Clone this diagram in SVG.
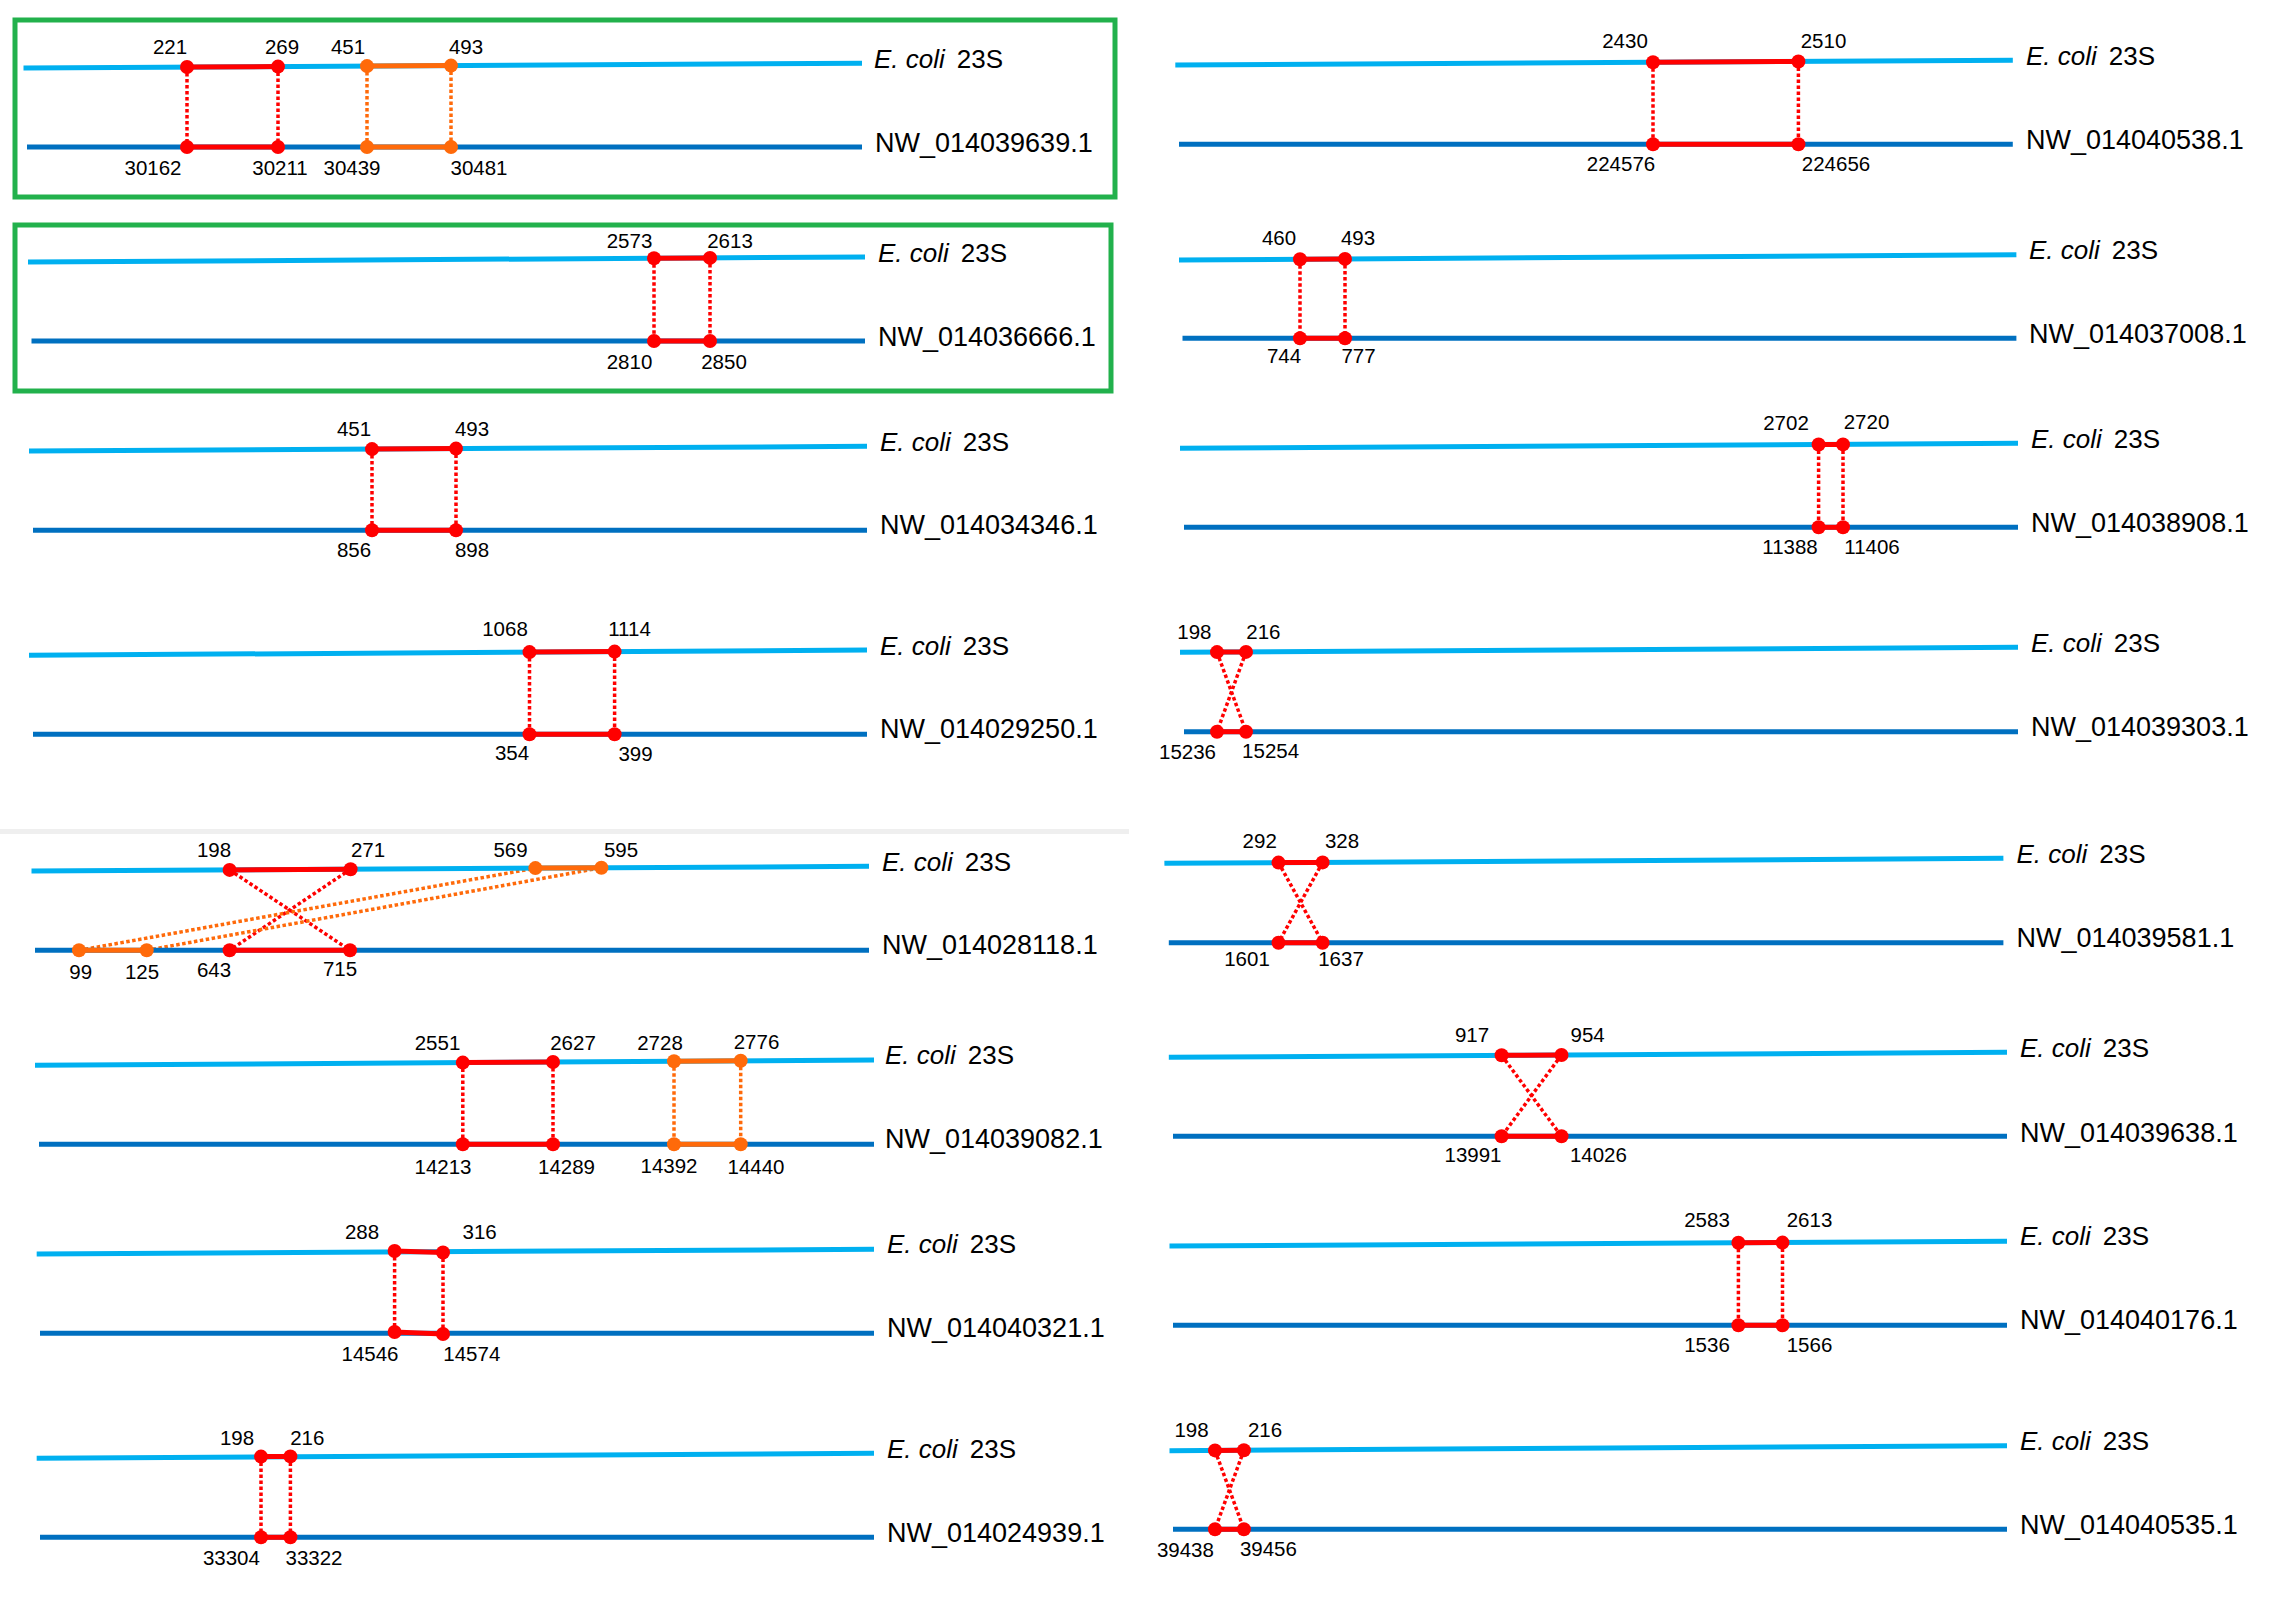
<svg xmlns="http://www.w3.org/2000/svg" width="2282" height="1609" viewBox="0 0 2282 1609">
<style>
.ec{stroke:#00B0F0;stroke-width:5;fill:none}
.nw{stroke:#0070C0;stroke-width:5;fill:none}
.sr{stroke:#FF0000;stroke-width:5}
.so{stroke:#FF6A0A;stroke-width:5}
.dr{fill:#FF0000}
.do{fill:#FF6A0A}
.lr{stroke:#FF0000;stroke-width:3.5;stroke-dasharray:3.5 2.5;fill:none}
.lo{stroke:#FF6A0A;stroke-width:3.5;stroke-dasharray:3.5 2.5;fill:none}
.num{font-family:"Liberation Sans",Arial,sans-serif;font-size:20.5px;text-anchor:middle;fill:#000}
.name{font-family:"Liberation Sans",Arial,sans-serif;font-size:27px;fill:#000}
.ecn{font-family:"Liberation Sans",Arial,sans-serif;font-size:26px;fill:#000}
.box{fill:none;stroke:#22B14C;stroke-width:5}
</style>
<rect width="2282" height="1609" fill="#FFFFFF"/>
<rect x="0" y="829" width="1129" height="5" fill="#EFEFEF"/>

<g id="connectors">
  <!-- L1 -->
  <line class="lr" x1="187" y1="67" x2="187" y2="147"/>
  <line class="lr" x1="278" y1="66.6" x2="278" y2="147"/>
  <line class="lo" x1="367" y1="66.1" x2="367" y2="147"/>
  <line class="lo" x1="451" y1="65.6" x2="451" y2="147"/>
  <!-- L2 -->
  <line class="lr" x1="654" y1="258.3" x2="654" y2="341"/>
  <line class="lr" x1="710" y1="257.9" x2="710" y2="341"/>
  <!-- L3 -->
  <line class="lr" x1="372" y1="449.1" x2="372" y2="530.3"/>
  <line class="lr" x1="456" y1="448.6" x2="456" y2="530.3"/>
  <!-- L4 -->
  <line class="lr" x1="529.5" y1="652.1" x2="529.5" y2="734.3"/>
  <line class="lr" x1="614.6" y1="651.6" x2="614.6" y2="734.3"/>
  <!-- L5 -->
  <line class="lr" x1="229.6" y1="869.9" x2="350" y2="950.3"/>
  <line class="lr" x1="350.6" y1="869.2" x2="229.6" y2="950.3"/>
  <line class="lo" x1="79" y1="950.3" x2="535.4" y2="868.1"/>
  <line class="lo" x1="146.7" y1="950.3" x2="601.4" y2="867.7"/>
  <!-- L6 -->
  <line class="lr" x1="462.8" y1="1062.6" x2="462.8" y2="1144.3"/>
  <line class="lr" x1="553" y1="1062" x2="553" y2="1144.3"/>
  <line class="lo" x1="674" y1="1061.3" x2="674" y2="1144.3"/>
  <line class="lo" x1="740.7" y1="1060.8" x2="740.7" y2="1144.3"/>
  <!-- L7 -->
  <line class="lr" x1="394.6" y1="1251" x2="394.6" y2="1332"/>
  <line class="lr" x1="443" y1="1252.5" x2="443" y2="1334"/>
  <!-- L8 -->
  <line class="lr" x1="261" y1="1456.6" x2="261" y2="1537.3"/>
  <line class="lr" x1="290.4" y1="1456.4" x2="290.4" y2="1537.3"/>
  <!-- R1 -->
  <line class="lr" x1="1653" y1="62.3" x2="1653" y2="144.3"/>
  <line class="lr" x1="1798.4" y1="61.5" x2="1798.4" y2="144.3"/>
  <!-- R2 -->
  <line class="lr" x1="1300" y1="259.2" x2="1300" y2="338.3"/>
  <line class="lr" x1="1345" y1="258.9" x2="1345" y2="338.3"/>
  <!-- R3 -->
  <line class="lr" x1="1818.6" y1="444.5" x2="1818.6" y2="527.3"/>
  <line class="lr" x1="1843" y1="444.4" x2="1843" y2="527.3"/>
  <!-- R4 -->
  <line class="lr" x1="1217" y1="652.1" x2="1246" y2="731.7"/>
  <line class="lr" x1="1246" y1="651.9" x2="1217" y2="731.7"/>
  <!-- R5 -->
  <line class="lr" x1="1278.5" y1="862.6" x2="1322.6" y2="942.7"/>
  <line class="lr" x1="1322.6" y1="862.4" x2="1278.5" y2="942.7"/>
  <!-- R6 -->
  <line class="lr" x1="1501.6" y1="1055.3" x2="1561.5" y2="1136.3"/>
  <line class="lr" x1="1561.5" y1="1055" x2="1501.6" y2="1136.3"/>
  <!-- R7 -->
  <line class="lr" x1="1738.4" y1="1242.8" x2="1738.4" y2="1325.3"/>
  <line class="lr" x1="1782.5" y1="1242.6" x2="1782.5" y2="1325.3"/>
  <!-- R8 -->
  <line class="lr" x1="1215" y1="1450.4" x2="1243.9" y2="1529.3"/>
  <line class="lr" x1="1243.9" y1="1450.2" x2="1215" y2="1529.3"/>
</g>

<g id="panel-NW_014039639">
  <rect class="box" x="15" y="20" width="1100" height="177"/>
  <line class="ec" x1="23.5" y1="68" x2="862" y2="63.3"/>
  <line class="nw" x1="27" y1="147" x2="862" y2="147"/>
  <line class="sr" x1="187" y1="67" x2="278" y2="66.6"/>
  <line class="so" x1="367" y1="66.1" x2="451" y2="65.6"/>
  <line class="sr" x1="187" y1="147" x2="278" y2="147"/>
  <line class="so" x1="367" y1="147" x2="451" y2="147"/>
  <circle class="dr" cx="187" cy="67" r="7"/><circle class="dr" cx="278" cy="66.6" r="7"/>
  <circle class="do" cx="367" cy="66.1" r="7"/><circle class="do" cx="451" cy="65.6" r="7"/>
  <circle class="dr" cx="187" cy="147" r="7"/><circle class="dr" cx="278" cy="147" r="7"/>
  <circle class="do" cx="367" cy="147" r="7"/><circle class="do" cx="451" cy="147" r="7"/>
  <text class="num" x="170" y="54">221</text><text class="num" x="282" y="54">269</text>
  <text class="num" x="348" y="54">451</text><text class="num" x="466" y="54">493</text>
  <text class="num" x="153" y="174.5">30162</text><text class="num" x="280" y="174.5">30211</text>
  <text class="num" x="352" y="174.5">30439</text><text class="num" x="479" y="174.5">30481</text>
  <text class="ecn" x="874" y="68"><tspan font-style="italic">E. coli</tspan><tspan dx="12">23S</tspan></text>
  <text class="name" x="875" y="152">NW_014039639.1</text>
</g>

<g id="panel-NW_014036666">
  <rect class="box" x="15" y="225" width="1096" height="166"/>
  <line class="ec" x1="28" y1="262" x2="865" y2="257"/>
  <line class="nw" x1="31.5" y1="341" x2="865" y2="341"/>
  <line class="sr" x1="654" y1="258.3" x2="710" y2="257.9"/>
  <line class="sr" x1="654" y1="341" x2="710" y2="341"/>
  <circle class="dr" cx="654" cy="258.3" r="7"/><circle class="dr" cx="710" cy="257.9" r="7"/>
  <circle class="dr" cx="654" cy="341" r="7"/><circle class="dr" cx="710" cy="341" r="7"/>
  <text class="num" x="629.5" y="248">2573</text><text class="num" x="730" y="248">2613</text>
  <text class="num" x="629.5" y="369">2810</text><text class="num" x="724" y="369">2850</text>
  <text class="ecn" x="878" y="262"><tspan font-style="italic">E. coli</tspan><tspan dx="12">23S</tspan></text>
  <text class="name" x="878" y="346">NW_014036666.1</text>
</g>

<g id="panel-NW_014034346">
  <line class="ec" x1="29" y1="451" x2="867" y2="446.3"/>
  <line class="nw" x1="33" y1="530.3" x2="867" y2="530.3"/>
  <line class="sr" x1="372" y1="449.1" x2="456" y2="448.6"/>
  <line class="sr" x1="372" y1="530.3" x2="456" y2="530.3"/>
  <circle class="dr" cx="372" cy="449.1" r="7"/><circle class="dr" cx="456" cy="448.6" r="7"/>
  <circle class="dr" cx="372" cy="530.3" r="7"/><circle class="dr" cx="456" cy="530.3" r="7"/>
  <text class="num" x="354" y="436">451</text><text class="num" x="472" y="436">493</text>
  <text class="num" x="354" y="556.5">856</text><text class="num" x="472" y="556.5">898</text>
  <text class="ecn" x="880" y="450.5"><tspan font-style="italic">E. coli</tspan><tspan dx="12">23S</tspan></text>
  <text class="name" x="880" y="534">NW_014034346.1</text>
</g>

<g id="panel-NW_014029250">
  <line class="ec" x1="29" y1="655.3" x2="867" y2="650"/>
  <line class="nw" x1="33" y1="734.3" x2="867" y2="734.3"/>
  <line class="sr" x1="529.5" y1="652.1" x2="614.6" y2="651.6"/>
  <line class="sr" x1="529.5" y1="734.3" x2="614.6" y2="734.3"/>
  <circle class="dr" cx="529.5" cy="652.1" r="7"/><circle class="dr" cx="614.6" cy="651.6" r="7"/>
  <circle class="dr" cx="529.5" cy="734.3" r="7"/><circle class="dr" cx="614.6" cy="734.3" r="7"/>
  <text class="num" x="505" y="636">1068</text><text class="num" x="629.5" y="636">1114</text>
  <text class="num" x="512" y="759.5">354</text><text class="num" x="635.5" y="760.5">399</text>
  <text class="ecn" x="880" y="655"><tspan font-style="italic">E. coli</tspan><tspan dx="12">23S</tspan></text>
  <text class="name" x="880" y="738">NW_014029250.1</text>
</g>

<g id="panel-NW_014028118">
  <line class="ec" x1="31.5" y1="871" x2="869" y2="866.3"/>
  <line class="nw" x1="35" y1="950.3" x2="869" y2="950.3"/>
  <line class="sr" x1="229.6" y1="869.9" x2="350.6" y2="869.2"/>
  <line class="so" x1="535.4" y1="868.1" x2="601.4" y2="867.7"/>
  <line class="so" x1="79" y1="950.3" x2="146.7" y2="950.3"/>
  <line class="sr" x1="229.6" y1="950.3" x2="350" y2="950.3"/>
  <circle class="dr" cx="229.6" cy="869.9" r="7"/><circle class="dr" cx="350.6" cy="869.2" r="7"/>
  <circle class="do" cx="535.4" cy="868.1" r="7"/><circle class="do" cx="601.4" cy="867.7" r="7"/>
  <circle class="do" cx="79" cy="950.3" r="7"/><circle class="do" cx="146.7" cy="950.3" r="7"/>
  <circle class="dr" cx="229.6" cy="950.3" r="7"/><circle class="dr" cx="350" cy="950.3" r="7"/>
  <text class="num" x="214" y="857">198</text><text class="num" x="368" y="857">271</text>
  <text class="num" x="510.5" y="857">569</text><text class="num" x="621" y="857">595</text>
  <text class="num" x="80.7" y="979">99</text><text class="num" x="142" y="979">125</text>
  <text class="num" x="214" y="977">643</text><text class="num" x="340" y="976">715</text>
  <text class="ecn" x="882" y="871"><tspan font-style="italic">E. coli</tspan><tspan dx="12">23S</tspan></text>
  <text class="name" x="882" y="954">NW_014028118.1</text>
</g>

<g id="panel-NW_014039082">
  <line class="ec" x1="35" y1="1065.3" x2="874" y2="1060"/>
  <line class="nw" x1="39" y1="1144.3" x2="874" y2="1144.3"/>
  <line class="sr" x1="462.8" y1="1062.6" x2="553" y2="1062"/>
  <line class="so" x1="674" y1="1061.3" x2="740.7" y2="1060.8"/>
  <line class="sr" x1="462.8" y1="1144.3" x2="553" y2="1144.3"/>
  <line class="so" x1="674" y1="1144.3" x2="740.7" y2="1144.3"/>
  <circle class="dr" cx="462.8" cy="1062.6" r="7"/><circle class="dr" cx="553" cy="1062" r="7"/>
  <circle class="do" cx="674" cy="1061.3" r="7"/><circle class="do" cx="740.7" cy="1060.8" r="7"/>
  <circle class="dr" cx="462.8" cy="1144.3" r="7"/><circle class="dr" cx="553" cy="1144.3" r="7"/>
  <circle class="do" cx="674" cy="1144.3" r="7"/><circle class="do" cx="740.7" cy="1144.3" r="7"/>
  <text class="num" x="437.5" y="1049.5">2551</text><text class="num" x="573" y="1049.5">2627</text>
  <text class="num" x="660" y="1049.5">2728</text><text class="num" x="756.5" y="1049">2776</text>
  <text class="num" x="443" y="1173.5">14213</text><text class="num" x="566.5" y="1173.5">14289</text>
  <text class="num" x="669" y="1172.5">14392</text><text class="num" x="756" y="1173.5">14440</text>
  <text class="ecn" x="885" y="1064"><tspan font-style="italic">E. coli</tspan><tspan dx="12">23S</tspan></text>
  <text class="name" x="885" y="1148">NW_014039082.1</text>
</g>

<g id="panel-NW_014040321">
  <line class="ec" x1="36.7" y1="1254" x2="874" y2="1249.3"/>
  <line class="nw" x1="40" y1="1333.3" x2="874" y2="1333.3"/>
  <line class="sr" x1="394.6" y1="1251" x2="443" y2="1252.5"/>
  <line class="sr" x1="394.6" y1="1332" x2="443" y2="1334"/>
  <circle class="dr" cx="394.6" cy="1251" r="7"/><circle class="dr" cx="443" cy="1252.5" r="7"/>
  <circle class="dr" cx="394.6" cy="1332" r="7"/><circle class="dr" cx="443" cy="1334" r="7"/>
  <text class="num" x="362" y="1239">288</text><text class="num" x="479.6" y="1238.5">316</text>
  <text class="num" x="370" y="1360.5">14546</text><text class="num" x="471.8" y="1360.5">14574</text>
  <text class="ecn" x="887" y="1253"><tspan font-style="italic">E. coli</tspan><tspan dx="12">23S</tspan></text>
  <text class="name" x="887" y="1337">NW_014040321.1</text>
</g>

<g id="panel-NW_014024939">
  <line class="ec" x1="36.7" y1="1458.3" x2="874" y2="1453.3"/>
  <line class="nw" x1="40" y1="1537.3" x2="874" y2="1537.3"/>
  <line class="sr" x1="261" y1="1456.6" x2="290.4" y2="1456.4"/>
  <line class="sr" x1="261" y1="1537.3" x2="290.4" y2="1537.3"/>
  <circle class="dr" cx="261" cy="1456.6" r="7"/><circle class="dr" cx="290.4" cy="1456.4" r="7"/>
  <circle class="dr" cx="261" cy="1537.3" r="7"/><circle class="dr" cx="290.4" cy="1537.3" r="7"/>
  <text class="num" x="237" y="1445">198</text><text class="num" x="307.3" y="1445">216</text>
  <text class="num" x="231.4" y="1565">33304</text><text class="num" x="314" y="1565">33322</text>
  <text class="ecn" x="887" y="1457.5"><tspan font-style="italic">E. coli</tspan><tspan dx="12">23S</tspan></text>
  <text class="name" x="887" y="1541.5">NW_014024939.1</text>
</g>

<g id="panel-NW_014040538">
  <line class="ec" x1="1175.3" y1="65" x2="2012.8" y2="60.3"/>
  <line class="nw" x1="1179" y1="144.3" x2="2012.8" y2="144.3"/>
  <line class="sr" x1="1653" y1="62.3" x2="1798.4" y2="61.5"/>
  <line class="sr" x1="1653" y1="144.3" x2="1798.4" y2="144.3"/>
  <circle class="dr" cx="1653" cy="62.3" r="7"/><circle class="dr" cx="1798.4" cy="61.5" r="7"/>
  <circle class="dr" cx="1653" cy="144.3" r="7"/><circle class="dr" cx="1798.4" cy="144.3" r="7"/>
  <text class="num" x="1625" y="48">2430</text><text class="num" x="1823.5" y="47.5">2510</text>
  <text class="num" x="1621" y="170.5">224576</text><text class="num" x="1836" y="170.5">224656</text>
  <text class="ecn" x="2026" y="65"><tspan font-style="italic">E. coli</tspan><tspan dx="12">23S</tspan></text>
  <text class="name" x="2026" y="149">NW_014040538.1</text>
</g>

<g id="panel-NW_014037008">
  <line class="ec" x1="1179" y1="260" x2="2016.4" y2="254.7"/>
  <line class="nw" x1="1182.5" y1="338.3" x2="2016.4" y2="338.3"/>
  <line class="sr" x1="1300" y1="259.2" x2="1345" y2="258.9"/>
  <line class="sr" x1="1300" y1="338.3" x2="1345" y2="338.3"/>
  <circle class="dr" cx="1300" cy="259.2" r="7"/><circle class="dr" cx="1345" cy="258.9" r="7"/>
  <circle class="dr" cx="1300" cy="338.3" r="7"/><circle class="dr" cx="1345" cy="338.3" r="7"/>
  <text class="num" x="1279" y="245">460</text><text class="num" x="1358" y="245">493</text>
  <text class="num" x="1284" y="363">744</text><text class="num" x="1358.5" y="363">777</text>
  <text class="ecn" x="2029" y="259"><tspan font-style="italic">E. coli</tspan><tspan dx="12">23S</tspan></text>
  <text class="name" x="2029" y="343">NW_014037008.1</text>
</g>

<g id="panel-NW_014038908">
  <line class="ec" x1="1180" y1="448.3" x2="2018" y2="443.3"/>
  <line class="nw" x1="1184" y1="527.3" x2="2018" y2="527.3"/>
  <line class="sr" x1="1818.6" y1="444.5" x2="1843" y2="444.4"/>
  <line class="sr" x1="1818.6" y1="527.3" x2="1843" y2="527.3"/>
  <circle class="dr" cx="1818.6" cy="444.5" r="7"/><circle class="dr" cx="1843" cy="444.4" r="7"/>
  <circle class="dr" cx="1818.6" cy="527.3" r="7"/><circle class="dr" cx="1843" cy="527.3" r="7"/>
  <text class="num" x="1786" y="430">2702</text><text class="num" x="1866.5" y="429">2720</text>
  <text class="num" x="1790" y="554">11388</text><text class="num" x="1872" y="554">11406</text>
  <text class="ecn" x="2031" y="447.5"><tspan font-style="italic">E. coli</tspan><tspan dx="12">23S</tspan></text>
  <text class="name" x="2031" y="531.5">NW_014038908.1</text>
</g>

<g id="panel-NW_014039303">
  <line class="ec" x1="1180" y1="652.3" x2="2018" y2="647.3"/>
  <line class="nw" x1="1184" y1="731.7" x2="2018" y2="731.7"/>
  <line class="sr" x1="1217" y1="652.1" x2="1246" y2="651.9"/>
  <line class="sr" x1="1217" y1="731.7" x2="1246" y2="731.7"/>
  <circle class="dr" cx="1217" cy="652.1" r="7"/><circle class="dr" cx="1246" cy="651.9" r="7"/>
  <circle class="dr" cx="1217" cy="731.7" r="7"/><circle class="dr" cx="1246" cy="731.7" r="7"/>
  <text class="num" x="1194.4" y="639">198</text><text class="num" x="1263.4" y="639">216</text>
  <text class="num" x="1187.5" y="759">15236</text><text class="num" x="1270.6" y="757.5">15254</text>
  <text class="ecn" x="2031" y="652"><tspan font-style="italic">E. coli</tspan><tspan dx="12">23S</tspan></text>
  <text class="name" x="2031" y="736">NW_014039303.1</text>
</g>

<g id="panel-NW_014039581">
  <line class="ec" x1="1164.4" y1="863.3" x2="2003.4" y2="858.3"/>
  <line class="nw" x1="1168.8" y1="942.7" x2="2003.4" y2="942.7"/>
  <line class="sr" x1="1278.5" y1="862.6" x2="1322.6" y2="862.4"/>
  <line class="sr" x1="1278.5" y1="942.7" x2="1322.6" y2="942.7"/>
  <circle class="dr" cx="1278.5" cy="862.6" r="7"/><circle class="dr" cx="1322.6" cy="862.4" r="7"/>
  <circle class="dr" cx="1278.5" cy="942.7" r="7"/><circle class="dr" cx="1322.6" cy="942.7" r="7"/>
  <text class="num" x="1259.7" y="847.5">292</text><text class="num" x="1342" y="847.5">328</text>
  <text class="num" x="1247" y="966">1601</text><text class="num" x="1341" y="966">1637</text>
  <text class="ecn" x="2016.5" y="862.5"><tspan font-style="italic">E. coli</tspan><tspan dx="12">23S</tspan></text>
  <text class="name" x="2016.5" y="946.5">NW_014039581.1</text>
</g>

<g id="panel-NW_014039638">
  <line class="ec" x1="1168.8" y1="1057.3" x2="2007" y2="1052.3"/>
  <line class="nw" x1="1173" y1="1136.3" x2="2007" y2="1136.3"/>
  <line class="sr" x1="1501.6" y1="1055.3" x2="1561.5" y2="1055"/>
  <line class="sr" x1="1501.6" y1="1136.3" x2="1561.5" y2="1136.3"/>
  <circle class="dr" cx="1501.6" cy="1055.3" r="7"/><circle class="dr" cx="1561.5" cy="1055" r="7"/>
  <circle class="dr" cx="1501.6" cy="1136.3" r="7"/><circle class="dr" cx="1561.5" cy="1136.3" r="7"/>
  <text class="num" x="1472" y="1042">917</text><text class="num" x="1587.6" y="1042">954</text>
  <text class="num" x="1473" y="1162">13991</text><text class="num" x="1598.4" y="1162">14026</text>
  <text class="ecn" x="2020" y="1056.5"><tspan font-style="italic">E. coli</tspan><tspan dx="12">23S</tspan></text>
  <text class="name" x="2020" y="1141.5">NW_014039638.1</text>
</g>

<g id="panel-NW_014040176">
  <line class="ec" x1="1169.5" y1="1246" x2="2007" y2="1241.3"/>
  <line class="nw" x1="1173" y1="1325.3" x2="2007" y2="1325.3"/>
  <line class="sr" x1="1738.4" y1="1242.8" x2="1782.5" y2="1242.6"/>
  <line class="sr" x1="1738.4" y1="1325.3" x2="1782.5" y2="1325.3"/>
  <circle class="dr" cx="1738.4" cy="1242.8" r="7"/><circle class="dr" cx="1782.5" cy="1242.6" r="7"/>
  <circle class="dr" cx="1738.4" cy="1325.3" r="7"/><circle class="dr" cx="1782.5" cy="1325.3" r="7"/>
  <text class="num" x="1707" y="1227">2583</text><text class="num" x="1809.5" y="1227">2613</text>
  <text class="num" x="1707" y="1351.5">1536</text><text class="num" x="1809.5" y="1351.5">1566</text>
  <text class="ecn" x="2020" y="1245"><tspan font-style="italic">E. coli</tspan><tspan dx="12">23S</tspan></text>
  <text class="name" x="2020" y="1329">NW_014040176.1</text>
</g>

<g id="panel-NW_014040535">
  <line class="ec" x1="1169.5" y1="1450.7" x2="2007" y2="1445.7"/>
  <line class="nw" x1="1173" y1="1529.3" x2="2007" y2="1529.3"/>
  <line class="sr" x1="1215" y1="1450.4" x2="1243.9" y2="1450.2"/>
  <line class="sr" x1="1215" y1="1529.3" x2="1243.9" y2="1529.3"/>
  <circle class="dr" cx="1215" cy="1450.4" r="7"/><circle class="dr" cx="1243.9" cy="1450.2" r="7"/>
  <circle class="dr" cx="1215" cy="1529.3" r="7"/><circle class="dr" cx="1243.9" cy="1529.3" r="7"/>
  <text class="num" x="1191.5" y="1436.5">198</text><text class="num" x="1265" y="1436.5">216</text>
  <text class="num" x="1185.4" y="1557">39438</text><text class="num" x="1268.4" y="1556">39456</text>
  <text class="ecn" x="2020" y="1450"><tspan font-style="italic">E. coli</tspan><tspan dx="12">23S</tspan></text>
  <text class="name" x="2020" y="1533.5">NW_014040535.1</text>
</g>
</svg>
